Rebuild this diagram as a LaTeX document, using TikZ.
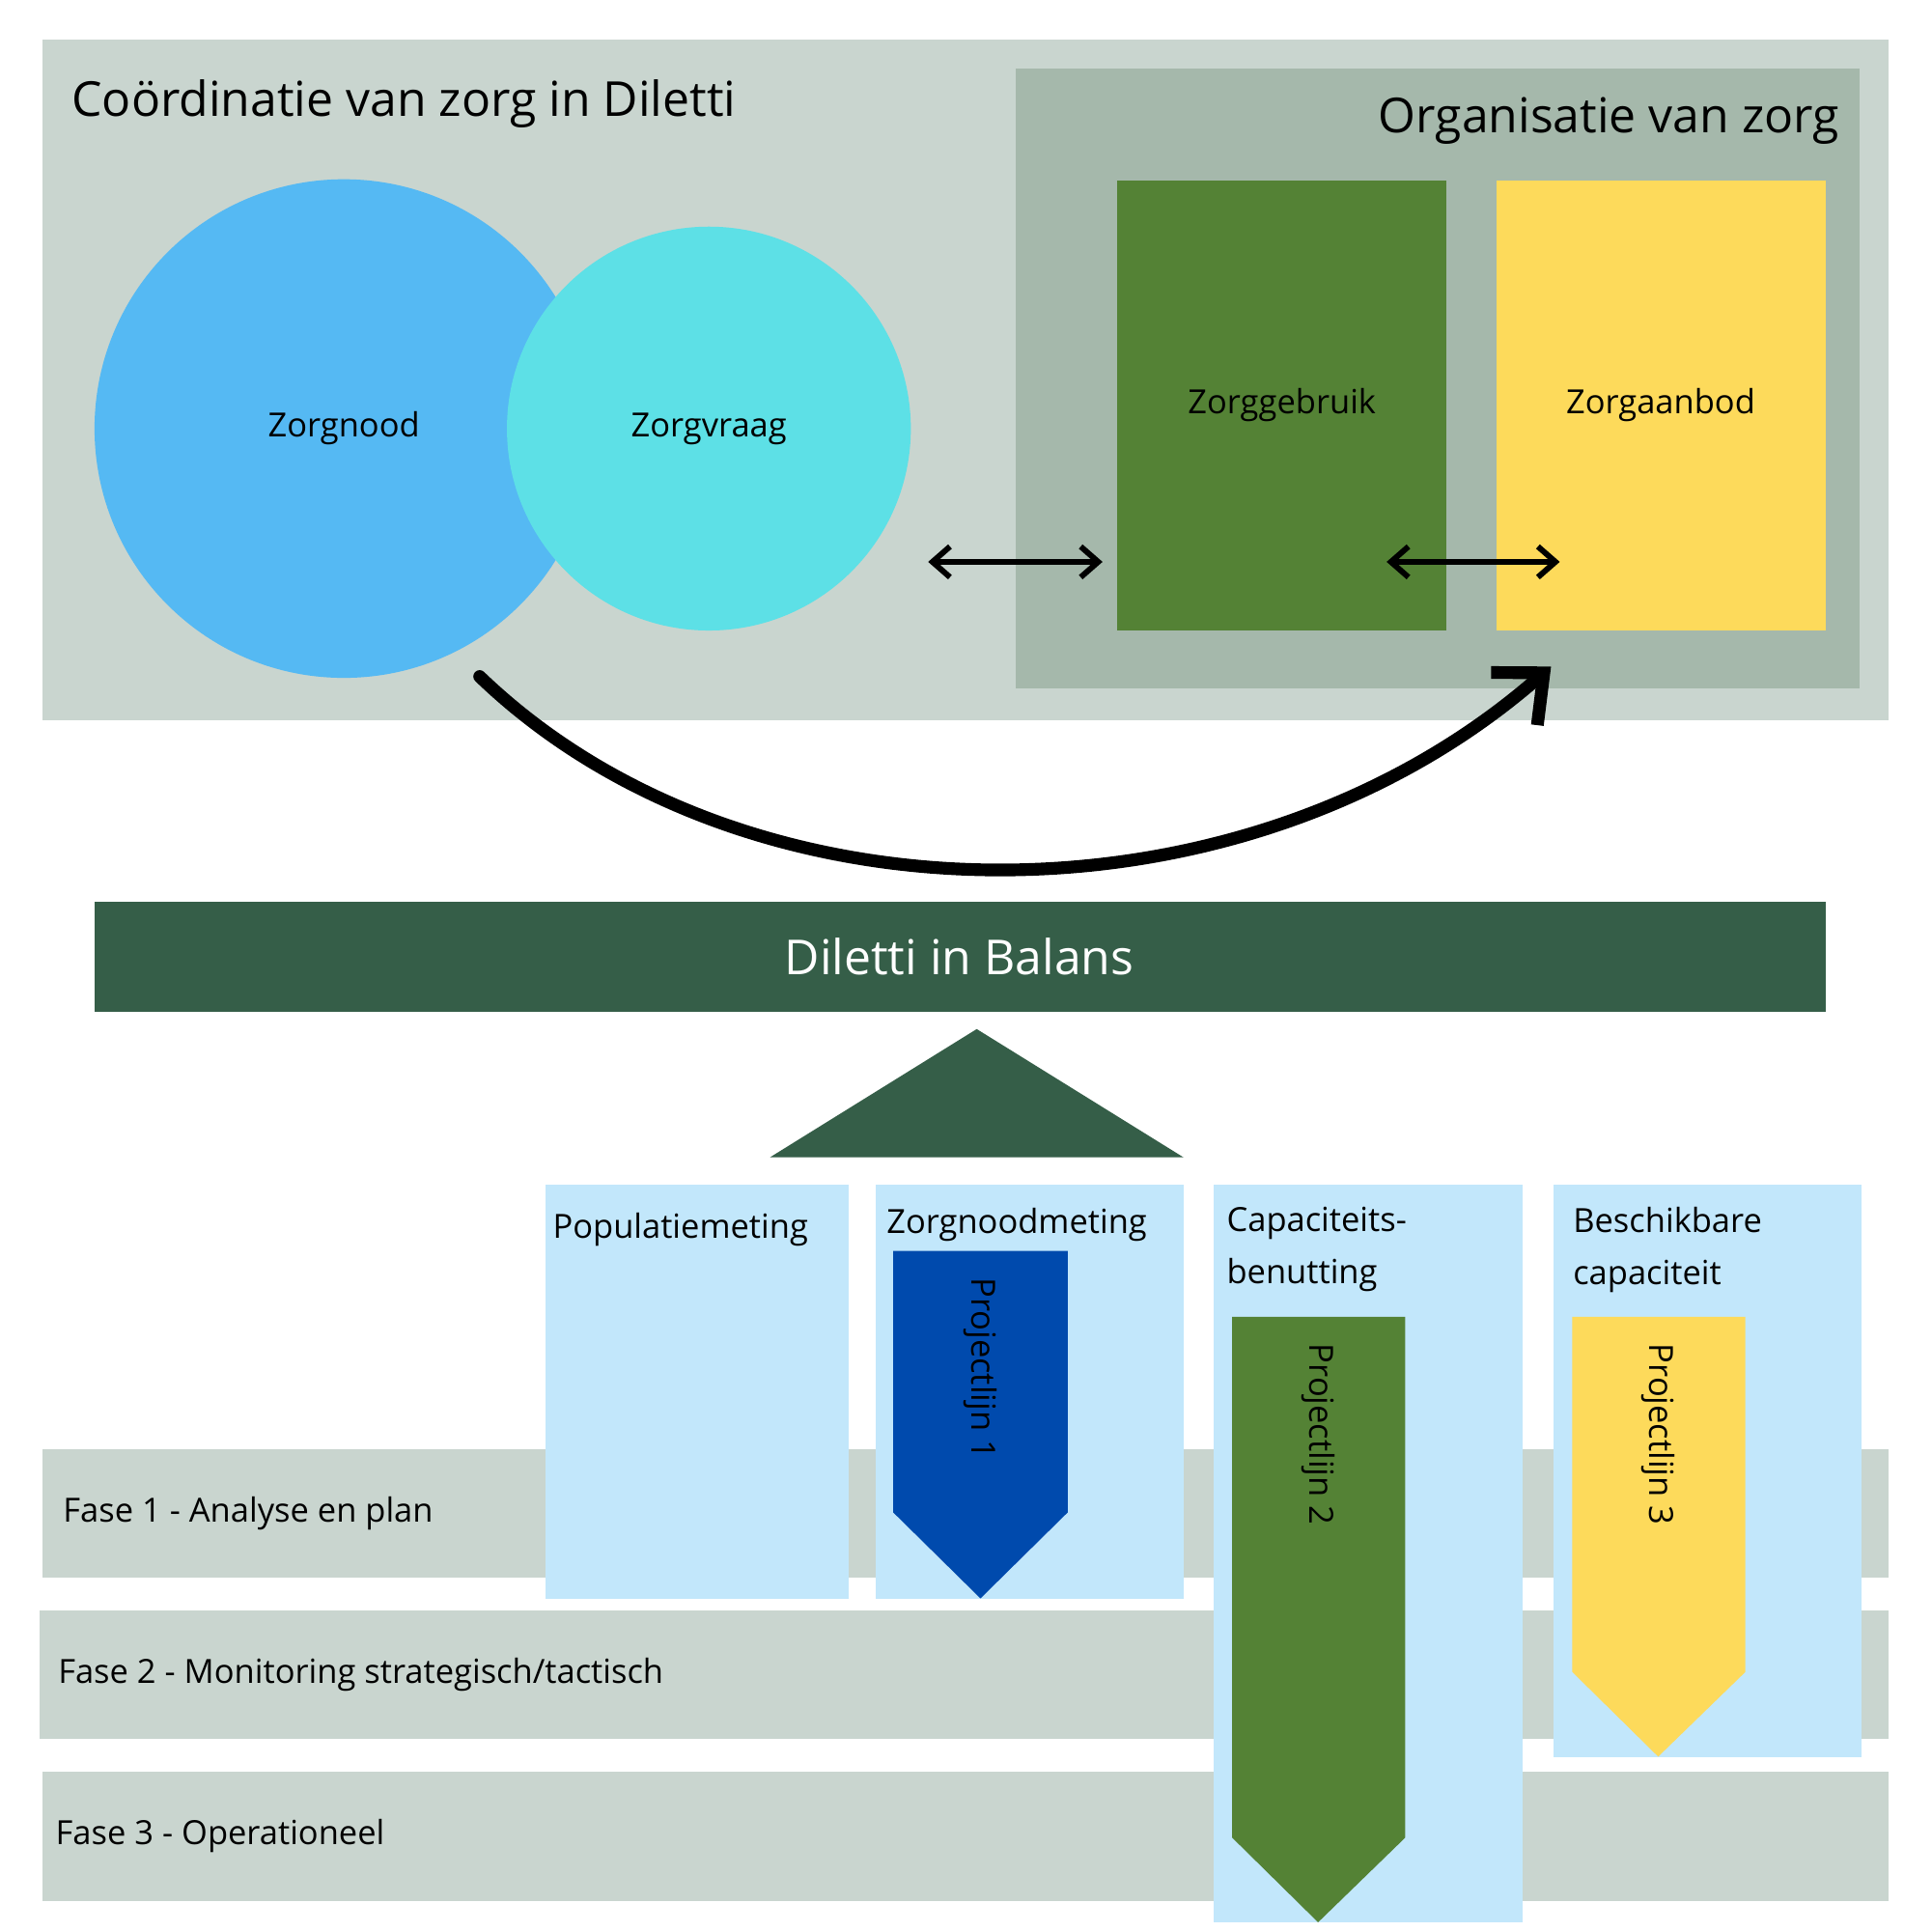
\documentclass[tikz,border=0pt]{standalone}
\usepackage{fontspec}
\setmainfont{Open Sans}
\usetikzlibrary{arrows.meta,shapes.geometric}
\definecolor{bgg}{HTML}{C9D5CF}
\definecolor{orgg}{HTML}{A5B8AB}
\definecolor{dgreen}{HTML}{548235}
\definecolor{yel}{HTML}{FDDA5B}
\definecolor{cblue}{HTML}{55B9F3}
\definecolor{ccyan}{HTML}{5DE0E6}
\definecolor{banner}{HTML}{355E48}
\definecolor{lblue}{HTML}{C2E7FB}
\definecolor{pblue}{HTML}{004AAD}
\tikzset{
 box/.style={inner sep=0pt,outer sep=0pt,anchor=north west},
 lbl/.style={font=\fontsize{7.6}{9.5}\selectfont,inner sep=0pt},
 big/.style={font=\fontsize{11}{13}\selectfont,inner sep=0pt},
 dbl/.style={{Straight Barb[length=4pt,width=7pt]}-{Straight Barb[length=4pt,width=7pt]},line width=1.3pt},
}
\begin{document}
\begin{tikzpicture}[x=0.01cm,y=-0.01cm]
\useasboundingbox (0,0) rectangle (1550,1550);
\fill[white] (0,0) rectangle (1550,1550);
% top
\node[box,fill=bgg,minimum width=14.81cm,minimum height=5.46cm] (top) at (34,32) {};
\node[lbl,big,anchor=west] (title) at (57,83) {Coördinatie van zorg in Diletti};
\node[box,fill=orgg,minimum width=6.77cm,minimum height=4.97cm] (org) at (815,55) {};
\node[lbl,big,anchor=east] (orgt) at (1477,97) {Organisatie van zorg};
\node[box,fill=dgreen,minimum width=2.64cm,minimum height=3.61cm] (geb) at (897,145) {};
\node[lbl] at (1029,325) {Zorggebruik};
\node[box,fill=yel,minimum width=2.64cm,minimum height=3.61cm] (aan) at (1201,145) {};
\node[lbl] at (1333,325) {Zorgaanbod};
\node[circle,fill=cblue,minimum size=4cm,inner sep=0pt] (nood) at (276,344) {};
\node[circle,fill=ccyan,minimum size=3.24cm,inner sep=0pt] (vraag) at (569,344) {};
\node[lbl] at (276,344) {Zorgnood};
\node[lbl] at (569,344) {Zorgvraag};
\coordinate (a1) at (745,451); \coordinate (a2) at (885,451);
\coordinate (b1) at (1113,451); \coordinate (b2) at (1252,451);
\draw[dbl] (a1) -- (a2);
\draw[dbl] (b1) -- (b2);
\coordinate (c1) at (385,543); \coordinate (c2) at (1245,535);
\draw[line width=2.9pt,line cap=round,-{Straight Barb[length=9pt,width=16pt]}] (c1) .. controls (600,750) and (1000,750) .. (c2);
% banner
\node[box,fill=banner,minimum width=13.89cm,minimum height=0.88cm] (ban) at (76,724) {};
\node[lbl,big,text=white] at (770,768) {Diletti in Balans};
\fill[banner] (784,826) -- (950,929) -- (618,929) -- cycle;
% phases
\node[box,fill=bgg,minimum width=14.81cm,minimum height=1.03cm] (f1) at (34,1163) {};
\node[box,fill=bgg,minimum width=14.83cm,minimum height=1.03cm] (f2) at (32,1293) {};
\node[box,fill=bgg,minimum width=14.81cm,minimum height=1.04cm] (f3) at (34,1422) {};
\node[lbl,anchor=west] at (50,1215) {Fase 1 - Analyse en plan};
\node[lbl,anchor=west] at (46,1344) {Fase 2 - Monitoring strategisch/tactisch};
\node[lbl,anchor=west] at (44,1474) {Fase 3 - Operationeel};
% columns
\node[box,fill=lblue,minimum width=2.43cm,minimum height=3.32cm] (p1) at (438,951) {};
\node[box,fill=lblue,minimum width=2.47cm,minimum height=3.32cm] (p2) at (703,951) {};
\node[box,fill=lblue,minimum width=2.48cm,minimum height=5.92cm] (p3) at (974,951) {};
\node[box,fill=lblue,minimum width=2.47cm,minimum height=4.59cm] (p4) at (1247,951) {};
\node[lbl,anchor=west] at (443,987) {Populatiemeting};
\node[lbl,anchor=west] at (711,983) {Zorgnoodmeting};
\node[lbl,anchor=north west,align=left,font=\fontsize{7.6}{12}\selectfont] at (984,968) {Capaciteits-\\benutting};
\node[lbl,anchor=north west,align=left,font=\fontsize{7.6}{12}\selectfont] at (1262,968) {Beschikbare\\capaciteit};
\fill[pblue] (717,1004) -- (857,1004) -- (857,1214) -- (787,1283) -- (717,1214) -- cycle;
\fill[dgreen] (989,1057) -- (1128,1057) -- (1128,1475) -- (1058,1543) -- (989,1475) -- cycle;
\fill[yel] (1262,1057) -- (1401,1057) -- (1401,1342) -- (1331,1410) -- (1262,1342) -- cycle;
\node[lbl,rotate=-90,anchor=west] at (787,1025) {Projectlijn 1};
\node[lbl,rotate=-90,anchor=west] at (1058,1078) {Projectlijn 2};
\node[lbl,rotate=-90,anchor=west] at (1331,1078) {Projectlijn 3};
\end{tikzpicture}
\end{document}
